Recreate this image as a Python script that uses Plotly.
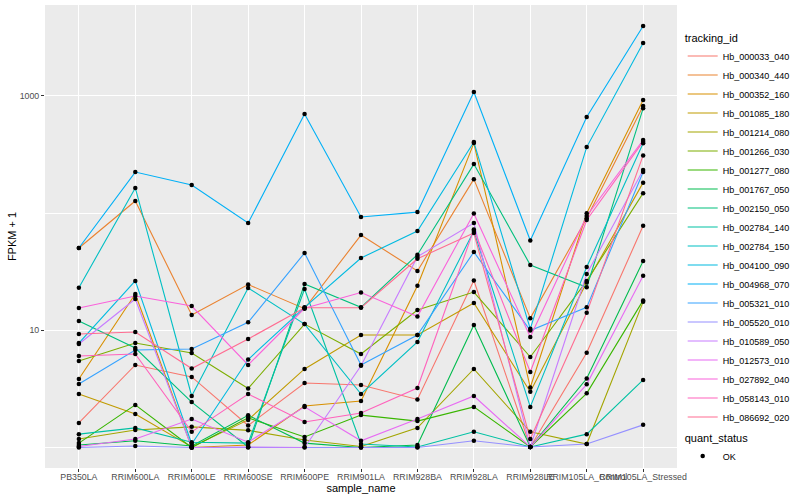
import plotly.graph_objects as go

samples = ["PB350LA", "RRIM600LA", "RRIM600LE", "RRIM600SE", "RRIM600PE", "RRIM901LA",
           "RRIM928BA", "RRIM928LA", "RRIM928LE", "RRIM105LA_Control", "RRIM105LA_Stressed"]

tracking_ids = ["Hb_000033_040", "Hb_000340_440", "Hb_000352_160", "Hb_001085_180", "Hb_001214_080",
                "Hb_001266_030", "Hb_001277_080", "Hb_001767_050", "Hb_002150_050", "Hb_002784_140",
                "Hb_002784_150", "Hb_004100_090", "Hb_004968_070", "Hb_005321_010", "Hb_005520_010",
                "Hb_010589_050", "Hb_012573_010", "Hb_027892_040", "Hb_058143_010", "Hb_086692_020"]

colors = ["#F8766D", "#EA8331", "#D89000", "#C09B00", "#A3A500", "#7CAE00", "#39B600", "#00BB4E",
          "#00BF7D", "#00C1A3", "#00BFC4", "#00BAE0", "#00B0F6", "#35A2FF", "#9590FF", "#C77CFF",
          "#E76BF3", "#FA62DB", "#FF62BC", "#FF6C91"]

# FPKM + 1 per sample
hb_000033_040 = [1.62, 5.06, 4.00, 1.54, 3.55, 3.41, 2.57, 26.6, 1.01, 6.44, 78.0]
hb_000340_440 = [50.4, 127, 13.5, 24.6, 15.3, 65.0, 32.1, 195, 12.7, 90.3, 820]
hb_000352_160 = [3.84, 20.4, 1.0, 1.05, 2.26, 2.49, 24.0, 396, 3.25, 99.6, 923]
hb_001085_180 = [2.86, 1.93, 1.01, 1.72, 4.68, 9.12, 9.12, 17.1, 2.99, 25.6, 182]
hb_001214_080 = [1.18, 1.41, 1.50, 1.40, 1.16, 1.02, 1.47, 4.68, 1.36, 1.07, 17.5]
hb_001266_030 = [5.47, 7.79, 6.40, 3.19, 11.3, 6.28, 14.9, 21.2, 5.92, 26.4, 148]
hb_001277_080 = [1.09, 2.31, 1.0, 1.79, 1.23, 1.89, 1.68, 2.22, 1.01, 2.90, 18.0]
hb_001767_050 = [1.05, 1.14, 1.03, 1.88, 1.09, 1.0, 1.05, 11.1, 1.01, 3.88, 39.0]
hb_002150_050 = [12.0, 7.06, 2.44, 1.01, 24.8, 15.7, 44.2, 262, 36.1, 23.3, 784]
hb_002784_140 = [1.30, 1.47, 1.11, 1.09, 22.5, 1.07, 1.01, 1.36, 1.01, 1.30, 3.77]
hb_002784_150 = [23.1, 164, 2.75, 23.0, 11.3, 2.86, 7.95, 70.3, 2.22, 34.7, 394]
hb_004100_090 = [7.79, 26.4, 1.07, 5.63, 15.7, 41.4, 70.3, 404, 10.3, 366, 2826]
hb_004968_070 = [50.4, 224, 174, 82.3, 701, 92.6, 102, 1080, 58.4, 661, 3948]
hb_005321_010 = [3.48, 6.79, 6.92, 11.7, 45.7, 5.06, 9.12, 46.6, 9.96, 15.7, 224]
hb_005520_010 = [1.0, 1.03, 1.0, 1.0, 1.01, 1.0, 1.0, 1.14, 1.01, 1.07, 1.56]
hb_010589_050 = [7.64, 18.5, 1.0, 1.01, 1.0, 4.99, 42.5, 82.3, 1.01, 30.2, 233]
hb_012573_010 = [1.02, 1.18, 1.75, 1.11, 2.22, 1.14, 1.75, 2.75, 1.01, 3.46, 29.2]
hb_027892_040 = [15.5, 19.6, 16.1, 5.06, 15.4, 21.0, 13.1, 99.3, 8.77, 94.5, 421]
hb_058143_010 = [6.04, 6.28, 1.36, 2.86, 1.65, 1.97, 3.22, 72.4, 4.41, 87.3, 407]
hb_086692_020 = [9.30, 9.67, 4.72, 8.43, 15.6, 15.6, 40.8, 67.6, 1.18, 14.1, 311]

series = [hb_000033_040, hb_000340_440, hb_000352_160, hb_001085_180, hb_001214_080,
          hb_001266_030, hb_001277_080, hb_001767_050, hb_002150_050, hb_002784_140,
          hb_002784_150, hb_004100_090, hb_004968_070, hb_005321_010, hb_005520_010,
          hb_010589_050, hb_012573_010, hb_027892_040, hb_058143_010, hb_086692_020]

quant_status = "OK"

fig = go.Figure()
for name, vals, col in zip(tracking_ids, series, colors):
    fig.add_trace(go.Scatter(x=samples, y=vals, mode="lines", name=name,
                             line=dict(color=col, width=1.1), legend="legend"))

all_x = [s for vals in series for s in samples]
all_y = [v for vals in series for v in vals]
fig.add_trace(go.Scatter(x=all_x, y=all_y, mode="markers", name=quant_status,
                         marker=dict(color="black", size=4.5), legend="legend2", showlegend=True))

fig.update_layout(
    width=800, height=500,
    margin=dict(l=45, r=117, t=5, b=32),
    paper_bgcolor="white", plot_bgcolor="#EBEBEB",
    font=dict(family="Liberation Sans, Arial, sans-serif", size=9, color="#4D4D4D"),
    xaxis=dict(type="category", categoryorder="array", categoryarray=samples,
               range=[-0.6, 10.6], showgrid=True, gridcolor="white", gridwidth=1.3,
               ticks="outside", ticklen=3, tickcolor="#333333", tickangle=0,
               ticklabelstandoff=-3,
               tickfont=dict(size=8.8, color="#4D4D4D"), zeroline=False, showline=False,
               title=dict(text="sample_name", font=dict(size=11, color="black"), standoff=3)),
    yaxis=dict(type="log", range=[-0.175, 3.776], tickmode="array",
               tickvals=[10, 1000], ticktext=["10", "1000"],
               showgrid=True, gridcolor="white", gridwidth=1.3,
               minor=dict(tickmode="array", tickvals=[1, 100], showgrid=True,
                          gridcolor="white", gridwidth=0.6, ticks=""),
               ticks="outside", ticklen=3, tickcolor="#333333",
               tickfont=dict(size=8.8, color="#4D4D4D"), zeroline=False, showline=False,
               title=dict(text="FPKM + 1", font=dict(size=11, color="black"), standoff=0)),
    legend=dict(title=dict(text="tracking_id", font=dict(size=11, color="black")),
                x=1.009, xanchor="left", y=0.952, yanchor="top",
                font=dict(size=9, color="black"), bgcolor="white", itemwidth=30,
                tracegroupgap=0),
    legend2=dict(title=dict(text="quant_status", font=dict(size=11, color="black")),
                 x=1.009, xanchor="left", y=0.088, yanchor="top",
                 font=dict(size=9, color="black"), bgcolor="white"),
)

fig.write_html("out.html", config={"displayModeBar": False},
               post_script="document.body.style.margin='0';document.body.style.overflow='hidden';")
